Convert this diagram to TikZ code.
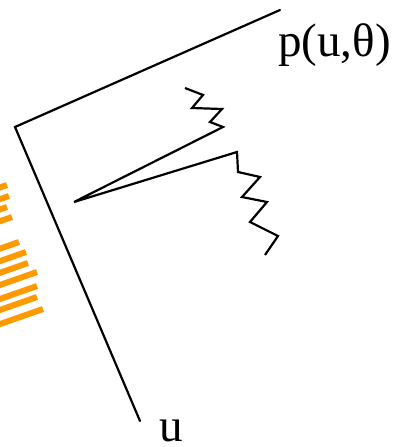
\documentclass[tikz,border=0pt]{standalone}
\usepackage{fontspec}
\setmainfont{Liberation Serif}
\begin{document}
\begin{tikzpicture}[x=1pt,y=-1pt,
  axis/.style={line width=2.2pt,line cap=round,line join=miter},
  ray/.style={line width=2.2pt,line join=miter},
  stripe/.style={draw=orange1,line width=6pt},
  lbl/.style={inner sep=0pt,font=\fontsize{47}{52}\selectfont}]
\definecolor{orange1}{HTML}{FF9900}
\useasboundingbox (0,0) rectangle (396,447);
% axes
\coordinate (corner) at (15,127);
\coordinate (ptop) at (280,10);
\coordinate (ubot) at (140,421);
\draw[axis] (ptop) -- (corner) -- (ubot);
\node[lbl,anchor=base west] (plabel) at (278,56) {p(u,θ)};
\node[lbl,anchor=base west] (ulabel) at (159,441) {u};
% rays
\coordinate (src) at (74,202);
\draw[ray] (185,88) -- (203,95) -- (192,108) -- (222,109) -- (210,122) -- (223,127) -- (src)
  -- (237,152) -- (238,172) -- (260,177) -- (242,197) -- (267,202) -- (250,222) -- (278,236) -- (265,255);
% orange stripes
\foreach \xe/\ye in {7/185,9/196,7/207,12/217,19/242,26/252,28/263,37/272,37/286,37/297,43/309}{
  \draw[stripe] (-5,\ye+0.35*\xe+1.75) -- (\xe,\ye);
}
\end{tikzpicture}
\end{document}
